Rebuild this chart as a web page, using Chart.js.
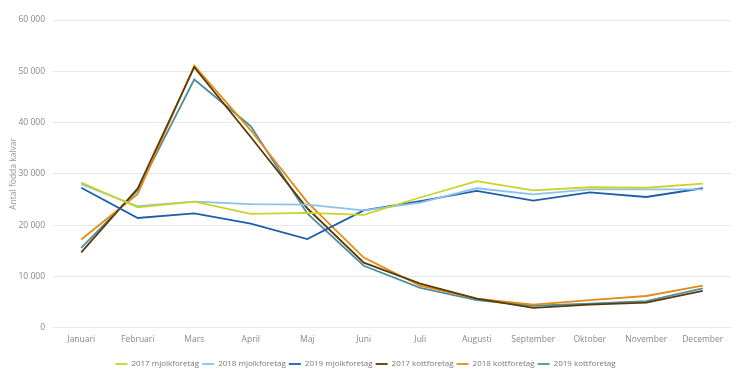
<!DOCTYPE html>
<html>
<head>
<meta charset="utf-8">
<script src="https://cdn.jsdelivr.net/npm/chart.js@4"></script>
<style>
  html, body { margin: 0; padding: 0; background: #fff; }
  #wrap { width: 739px; height: 375px; position: relative; }
</style>
</head>
<body>
<div id="wrap"><canvas id="c" width="739" height="375"></canvas></div>
<script>
const months = ["Januari","Februari","Mars","April","Maj","Juni","Juli","Augusti","September","Oktober","November","December"];
const mjolk2017 = [28300, 23500, 24600, 22200, 22400, 22000, 25400, 28600, 26800, 27400, 27300, 28100];
const mjolk2018 = [28000, 23700, 24600, 24100, 24000, 22900, 24400, 27200, 26000, 27000, 27000, 27000];
const mjolk2019 = [27300, 21400, 22300, 20300, 17300, 22900, 24700, 26700, 24800, 26400, 25500, 27200];
const kott2017 = [14700, 27200, 50800, 37200, 23300, 12700, 8600, 5700, 3900, 4500, 4900, 7200];
const kott2018 = [17200, 26100, 51100, 38500, 24500, 13700, 8200, 5700, 4500, 5400, 6200, 8200];
const kott2019 = [15600, 26800, 48400, 39300, 22300, 12100, 7800, 5400, 4300, 4700, 5200, 7700];
const yTicks = [0, 10000, 20000, 30000, 40000, 50000, 60000];
const yTitle = "Antal födda kalvar";

const seriesNames = ["2017 mjolkforetag","2018 mjolkforetag","2019 mjolkforetag","2017 kottforetag","2018 kottforetag","2019 kottforetag"];
const seriesData = [mjolk2017, mjolk2018, mjolk2019, kott2017, kott2018, kott2019];
const colors = ["#c9d42a","#8cc1ea","#1f5ea8","#5b3a06","#e58b12","#4e8fa2"];

function fmt(v) { return String(v).replace(/\B(?=(\d{3})+(?!\d))/g, " "); }

const datasets = seriesNames.map((n, i) => ({
  label: n,
  data: seriesData[i],
  borderColor: colors[i],
  backgroundColor: colors[i],
  borderWidth: 1.8,
  pointRadius: 0,
  pointHoverRadius: 0,
  pointStyle: 'line',
  tension: 0,
  fill: false
}));

Chart.defaults.font.family = "'Open Sans', sans-serif";

new Chart(document.getElementById('c'), {
  type: 'line',
  data: { labels: months, datasets },
  options: {
    responsive: false,
    animation: false,
    devicePixelRatio: 1,
    layout: { padding: { top: 20, right: 8, left: 0, bottom: -3 } },
    plugins: {
      tooltip: { enabled: false },
      legend: {
        position: 'bottom',
        labels: {
          usePointStyle: true,
          pointStyleWidth: 12,
          boxHeight: 8,
          color: '#777',
          font: { size: 8 },
          padding: 3
        }
      }
    },
    scales: {
      x: {
        offset: true,
        afterFit: (s) => { s.height += 5; },
        grid: { display: false, drawTicks: false },
        border: { display: false },
        ticks: { color: '#888', font: { size: 8.5 }, padding: 7, maxRotation: 0, autoSkip: false }
      },
      y: {
        min: 0, max: 60000,
        afterBuildTicks: (s) => { s.ticks = yTicks.map(v => ({ value: v })); },
        afterFit: (s) => { s.width = 53; },
        grid: { color: '#e8e8e8', lineWidth: 1, drawTicks: false },
        border: { display: false },
        ticks: { color: '#888', font: { size: 8.5 }, padding: 8, callback: (v) => fmt(v) },
        title: { display: true, text: yTitle, color: '#999', font: { size: 8.5 }, padding: { top: 8, bottom: 0 } }
      }
    }
  }
});
</script>
</body>
</html>
